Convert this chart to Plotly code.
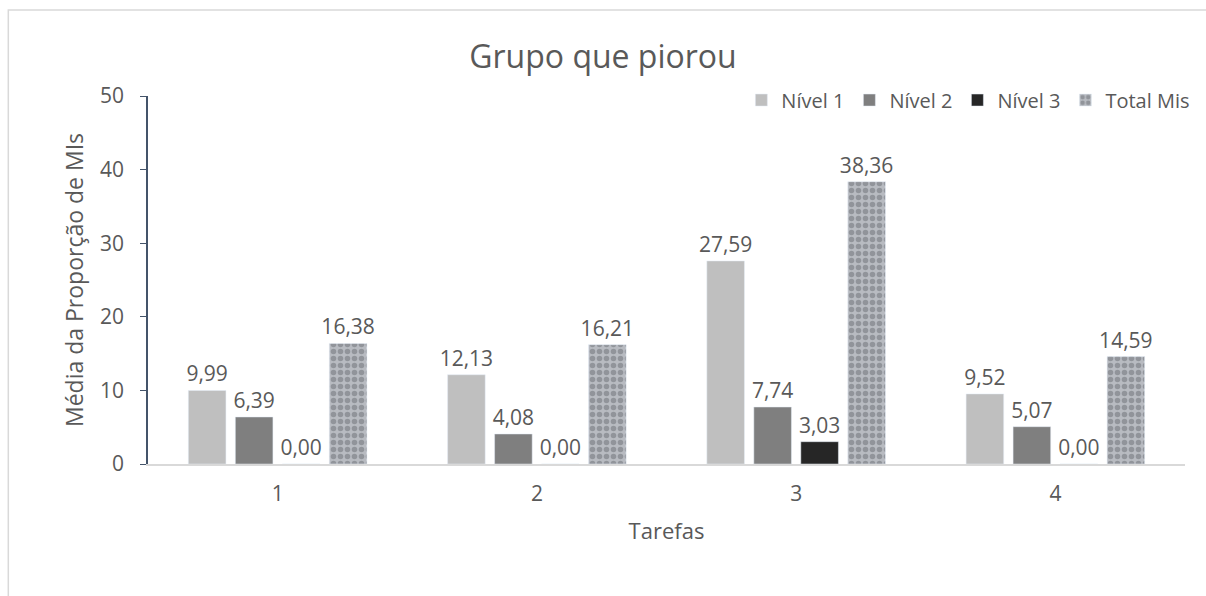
import plotly.graph_objects as go

categories = ["1", "2", "3", "4"]
nivel1 = [9.99, 12.13, 27.59, 9.52]
nivel2 = [6.39, 4.08, 7.74, 5.07]
nivel3 = [0.00, 0.00, 3.03, 0.00]
total_mis = [16.38, 16.21, 38.36, 14.59]

FONT = "Open Sans"
TXT = "#595959"

def fmt(v):
    return [f"{x:.2f}".replace(".", ",") for x in v]

fig = go.Figure()
series = [
    ("Nível 1", nivel1, "#BFBFBF"),
    ("Nível 2", nivel2, "#7F7F7F"),
    ("Nível 3", nivel3, "#262626"),
]
for name, vals, col in series:
    fig.add_trace(go.Bar(
        x=categories, y=vals, name=name, marker_color=col,
        text=fmt(vals), textposition="outside", cliponaxis=False,
        constraintext="none",
        textfont=dict(size=21, color=TXT, family=FONT),
    ))
fig.add_trace(go.Bar(
    x=categories, y=total_mis, name="Total Mis",
    marker=dict(color="#B0B3B8",
                pattern=dict(shape=".", fgcolor="#6A6D74", bgcolor="#B8BBC1",
                             size=7, solidity=0.5, fillmode="overlay")),
    text=fmt(total_mis), textposition="outside", cliponaxis=False,
    constraintext="none",
    textfont=dict(size=21, color=TXT, family=FONT),
))

fig.update_layout(
    width=1206, height=596,
    margin=dict(l=148, r=11, t=96, b=132),
    paper_bgcolor="white", plot_bgcolor="white",
    barmode="group", bargap=0.275, bargroupgap=0.2,
    font=dict(family=FONT, color=TXT, size=21),
    title=dict(text="Grupo que piorou", x=0.5, xanchor="center",
               y=1 - 57 / 596, yanchor="middle",
               font=dict(size=32, color=TXT, family=FONT)),
    legend=dict(orientation="h", x=1.01, xanchor="right", y=0.989, yanchor="middle",
                font=dict(size=20, color=TXT, family=FONT),
                itemwidth=30, traceorder="normal", bgcolor="rgba(0,0,0,0)"),
    showlegend=True,
    shapes=[dict(type="rect", xref="paper", yref="paper",
                 x0=-0.1347, x1=1.2, y0=-0.5, y1=1.2337,
                 line=dict(color="#D9D9D9", width=1.5), layer="below")],
)
fig.update_xaxes(
    showline=True, linecolor="#D9D9D9", linewidth=1.5, showgrid=False,
    ticks="", tickfont=dict(size=21, color=TXT), ticklabelstandoff=10,
    title=dict(text="Tarefas", font=dict(size=22, color=TXT), standoff=18),
)
fig.update_yaxes(
    range=[0, 50], dtick=10, showline=True, linecolor="#44546A", linewidth=1.5,
    showgrid=False, zeroline=False, ticks="outside", ticklen=6, tickcolor="#44546A",
    tickfont=dict(size=21, color=TXT), ticklabelstandoff=12,
    title=dict(text="Média da Proporção de MIs", font=dict(size=23, color=TXT), standoff=10),
)

fig.write_html("out.html")
